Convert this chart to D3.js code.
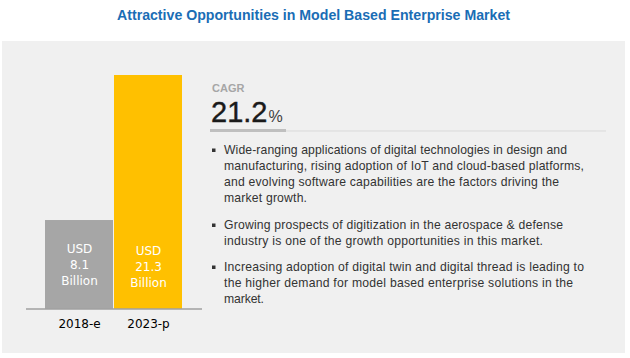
<!DOCTYPE html>
<html>
<head>
<meta charset="utf-8">
<script src="https://cdn.jsdelivr.net/npm/d3@7"></script>
<style>
  html, body { margin: 0; padding: 0; background: #ffffff; }
  svg { display: block; }
</style>
</head>
<body>
<svg id="chart" width="630" height="358"></svg>
<script>
const title = "Attractive Opportunities in Model Based Enterprise Market";
const categories = ["2018-e", "2023-p"];
const values = [8.1, 21.3];
const valueLabels = [["USD", "8.1", "Billion"], ["USD", "21.3", "Billion"]];
const barColors = ["#a6a6a6", "#ffc000"];
const cagrLabel = "CAGR";
const cagrValue = "21.2";
const bulletLines = [
  ["Wide-ranging applications of digital technologies in design and",
   "manufacturing, rising adoption of IoT and cloud-based platforms,",
   "and evolving software capabilities are the factors driving the",
   "market growth."],
  ["Growing prospects of digitization in the aerospace & defense",
   "industry is one of the growth opportunities in this market."],
  ["Increasing adoption of digital twin and digital thread is leading to",
   "the higher demand for model based enterprise solutions in the",
   "market."]
];
const lineWidths = [[343, 360, 335, 83], [339, 319], [360, 349, 40]];

const svg = d3.select("#chart");
const font = "'Liberation Sans', Arial, sans-serif";

// Title
svg.append("text")
  .attr("x", 313.5).attr("y", 19.5)
  .attr("text-anchor", "middle")
  .attr("font-family", font)
  .attr("font-weight", "bold")
  .attr("font-size", 15)
  .attr("fill", "#1a6db5")
  .attr("textLength", 393)
  .attr("lengthAdjust", "spacingAndGlyphs")
  .text(title);

// Panel
svg.append("rect")
  .attr("x", 2).attr("y", 41).attr("width", 623).attr("height", 312)
  .attr("fill", "#f0f0f0");

// Scales
const x = d3.scaleBand().domain(categories).range([45, 183]).padding(0);
const y = d3.scaleLinear().domain([0, d3.max(values)]).range([309, 75]);

// Bars
svg.selectAll("rect.bar")
  .data(values)
  .join("rect")
  .attr("class", "bar")
  .attr("x", (d, i) => x(categories[i]))
  .attr("y", d => y(d))
  .attr("width", x.bandwidth() - 1)
  .attr("height", d => y(0) - y(d))
  .attr("fill", (d, i) => barColors[i]);

// Axis
const axis = svg.append("g")
  .attr("transform", `translate(0,${y(0)})`)
  .call(d3.axisBottom(x).tickSize(0).tickPadding(10));
axis.select(".domain").remove();
axis.selectAll("text")
  .attr("font-family", "Tahoma, 'DejaVu Sans', sans-serif")
  .attr("font-size", 12)
  .attr("fill", "#000");
svg.append("line")
  .attr("x1", 26).attr("x2", 202)
  .attr("y1", y(0)).attr("y2", y(0))
  .attr("stroke", "#a0a0a0").attr("stroke-width", 1.5);

// Value labels inside bars
const labelOffsets = [[249, 265, 281], [251, 267, 283]];
valueLabels.forEach((lines, i) => {
  lines.forEach((t, j) => {
    svg.append("text")
      .attr("x", x(categories[i]) + x.bandwidth() / 2)
      .attr("y", labelOffsets[i][j])
      .attr("dy", "0.35em")
      .attr("text-anchor", "middle")
      .attr("font-family", "Tahoma, 'DejaVu Sans', sans-serif")
      .attr("font-size", 12)
      .attr("fill", "#ffffff")
      .text(t);
  });
});

// CAGR block
svg.append("text")
  .attr("x", 212).attr("y", 92)
  .attr("font-family", font)
  .attr("font-weight", "bold")
  .attr("font-size", 11)
  .attr("fill", "#a6a6a6")
  .text(cagrLabel);
const big = svg.append("text")
  .attr("x", 211).attr("y", 122)
  .attr("font-family", font)
  .attr("fill", "#1a1a1a");
big.append("tspan").attr("font-size", 29).attr("stroke", "#1a1a1a").attr("stroke-width", 0.4).text(cagrValue);
big.append("tspan").attr("font-size", 16).attr("fill", "#404040").attr("dx", 1).text("%");

svg.append("line")
  .attr("x1", 286).attr("x2", 606).attr("y1", 131).attr("y2", 131)
  .attr("stroke", "#d9d9d9").attr("stroke-width", 1);
svg.append("rect")
  .attr("x", 210).attr("y", 129).attr("width", 76).attr("height", 3)
  .attr("fill", "#bfbfbf");

// Bullets
const bulletStartY = [150, 225, 267];
const lineGap = 15.9;
bulletLines.forEach((lines, b) => {
  svg.append("rect")
    .attr("x", 212).attr("y", bulletStartY[b] - 1.5)
    .attr("width", 3.5).attr("height", 3.5)
    .attr("fill", "#333333");
  lines.forEach((t, j) => {
    svg.append("text")
      .attr("x", 224)
      .attr("y", bulletStartY[b] + j * lineGap)
      .attr("dy", "0.35em")
      .attr("font-family", font)
      .attr("font-size", 12.2)
      .attr("fill", "#333333")
      .attr("textLength", lineWidths[b][j])
      .attr("lengthAdjust", "spacing")
      .text(t);
  });
});
</script>
</body>
</html>
